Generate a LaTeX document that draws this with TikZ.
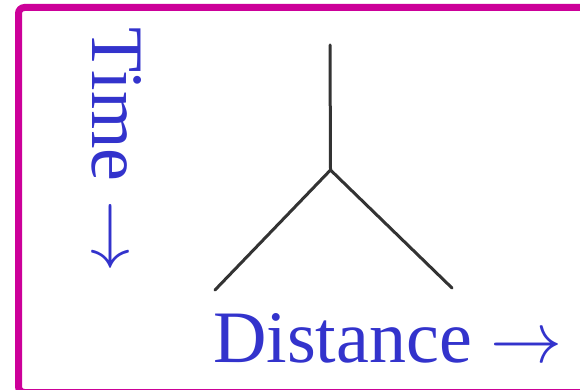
\documentclass[tikz,border=0pt]{standalone}
\usepackage{graphicx}
\usepackage{fontspec}
\setmainfont{Liberation Serif}
\definecolor{framemag}{RGB}{204,0,153}
\definecolor{textblue}{RGB}{51,51,204}
\definecolor{linegray}{RGB}{51,51,51}
\newcommand{\bigarrowR}{\scalebox{7.2}{\normalsize$\rightarrow$}}
\begin{document}
\begin{tikzpicture}[x=1pt,y=-1pt,
  label/.style={inner sep=0pt,outer sep=0pt,text=textblue,font=\fontsize{74}{80}\selectfont},
  branch/.style={draw=linegray,line width=3pt,line cap=round}]
\useasboundingbox (0,0) rectangle (580,390);
\clip (0,0) rectangle (580,390);
\draw[framemag,line width=7pt,rounded corners=6pt] (18.5,7.5) rectangle (590,392.5);
\coordinate (top) at (330,45);
\coordinate (j) at (330.5,170);
\coordinate (l) at (215,290);
\coordinate (r) at (452,288);
\draw[branch] (top) -- (j);
\draw[branch,line join=miter] (l) -- (j) -- (r);
\node[label,rotate=-90,anchor=base west] (time) at (92,28) {Time \bigarrowR};
\node[label,anchor=base west] (dist) at (213,362) {Distance \bigarrowR};
\end{tikzpicture}
\end{document}
